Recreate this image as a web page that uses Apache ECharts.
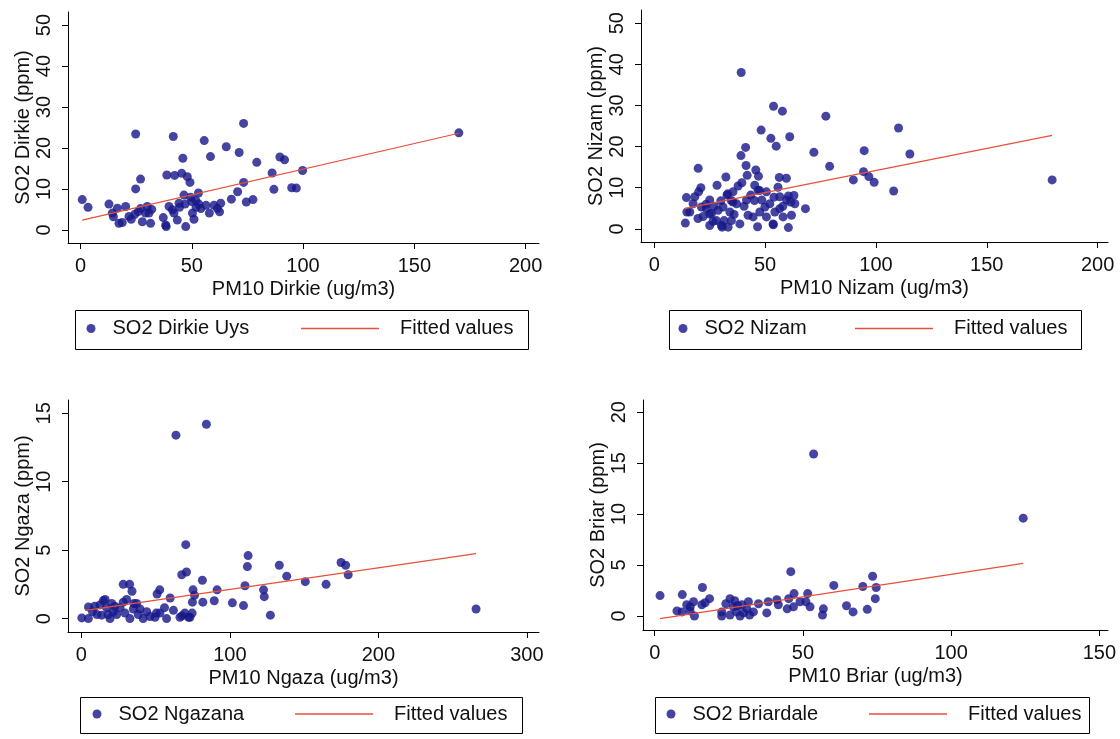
<!DOCTYPE html>
<html>
<head>
<meta charset="utf-8">
<script src="https://cdn.jsdelivr.net/npm/echarts@6/dist/echarts.min.js"></script>
<style>
  html, body { margin: 0; padding: 0; background: #ffffff; }
  #chart { width: 1120px; height: 739px; }
</style>
</head>
<body>
<div id="chart"></div>
<script>
// ---- Dirkie Uys station ----
const dirkiePM10 = [0.8, 3.4, 12.8, 14.3, 16.6, 14.8, 17.3, 18.8, 20.3, 21.8, 22.8, 24.8, 24.8, 27.0, 24.4, 26.0, 27.0, 27.8, 29.2, 30.0,
  30.8, 31.5, 32.0, 37.2, 38.3, 38.5, 38.8, 41.7, 42.3, 39.8, 41.3, 42.0, 43.5, 44.3, 45.5, 46.0, 46.5, 47.3, 48.0, 49.2,
  50.0, 50.3, 51.0, 51.8, 53.0, 53.2, 54.1, 55.6, 56.4, 57.9, 58.4, 60.0, 61.5, 62.5, 63.0, 65.5, 67.8, 70.6, 71.3, 73.3,
  73.3, 74.5, 77.5, 79.2, 86.1, 86.9, 89.6, 91.7, 94.9, 97.0, 99.8, 170.0, 44.5, 47.0, 49.5, 52.0];
const dirkieSO2 = [7.4, 5.5, 6.3, 4.1, 5.3, 3.2, 1.6, 1.8, 5.7, 3.3, 2.6, 23.4, 10.0, 12.4, 3.8, 4.5, 5.2, 2.0, 4.1, 5.7,
  4.1, 1.6, 5.0, 3.0, 1.2, 0.8, 13.4, 22.8, 13.3, 5.7, 4.9, 4.1, 2.4, 6.5, 13.8, 17.5, 8.5, 0.8, 13.0, 11.6,
  6.9, 4.1, 2.6, 7.2, 9.0, 6.3, 5.2, 21.8, 6.0, 4.1, 17.9, 6.0, 5.2, 4.4, 6.5, 20.3, 7.5, 9.3, 18.9, 26.0,
  11.6, 6.8, 7.4, 16.5, 13.9, 9.9, 17.8, 17.1, 10.3, 10.2, 14.5, 23.7, 5.5, 6.3, 8.0, 5.5];
const dirkieFitX = [0.8, 170.0];
const dirkieFitY = [2.4, 23.6];

// ---- Nizam station ----
const nizamPM10 = [39.2, 53.8, 57.8, 77.4, 48.2, 52.6, 55.0, 61.1, 41.2, 39.1, 72.0, 79.1, 94.7, 110.2, 115.3, 94.4, 96.8, 99.2, 89.8, 108.0,
  179.5, 19.8, 32.3, 41.4, 41.9, 45.8, 47.0, 28.3, 21.0, 20.0, 18.3, 14.5, 14.7, 14.0, 19.7, 37.8, 39.5, 56.4, 59.6, 55.8,
  60.5, 63.0, 68.2, 60.5, 46.6, 53.7, 17.5, 21.3, 25.0, 32.8, 35.5, 41.6, 45.3, 46.8, 50.6, 56.6, 59.7, 63.4, 16.0, 23.5,
  25.8, 28.8, 31.0, 34.1, 37.1, 34.8, 30.3, 25.0, 42.3, 44.6, 47.6, 50.6, 53.6, 54.4, 58.1, 61.9, 38.6, 33.3, 28.0, 49.9,
  52.1, 56.6, 33.1, 34.7, 45.2, 47.6, 54.0, 23.4, 31.5, 30.6, 25.0, 40.5, 36.0, 27.0, 22.0, 26.5, 43.5, 48.5, 58.0, 61.5,
  35.5, 30.0];
const nizamSO2 = [38.0, 29.8, 28.6, 27.4, 24.0, 22.0, 20.1, 22.4, 19.8, 17.8, 18.6, 15.2, 19.0, 24.5, 18.2, 13.9, 12.7, 11.3, 11.9, 9.2,
  11.9, 14.7, 12.6, 15.4, 13.0, 14.3, 12.8, 10.6, 10.0, 9.0, 7.8, 7.6, 4.1, 1.4, 2.5, 10.4, 11.2, 12.5, 12.3, 10.1,
  8.0, 8.1, 4.9, 0.3, 0.5, 1.0, 6.1, 5.3, 7.0, 8.2, 6.5, 7.0, 10.6, 9.4, 9.0, 7.8, 7.0, 6.1, 4.1, 4.9,
  3.7, 4.5, 5.3, 4.1, 6.1, 2.0, 0.8, 0.8, 3.3, 2.9, 4.1, 2.9, 1.2, 4.1, 2.9, 3.3, 1.2, 0.4, 2.0, 5.3,
  6.1, 4.9, 8.5, 6.9, 6.9, 9.3, 7.7, 6.0, 2.0, 0.4, 3.6, 5.5, 3.5, 5.5, 3.0, 1.8, 8.2, 7.0, 5.5, 6.5,
  9.0, 6.8];
const nizamFitX = [13.7, 179.5];
const nizamFitY = [4.9, 22.7];

// ---- Ngazana station ----
const ngazaPM10 = [63.7, 84.2, 70.3, 67.6, 70.8, 112.3, 111.8, 110.2, 109.2, 133.3, 138.3, 150.8, 164.8, 174.9, 178.0, 179.7, 265.8, 122.7, 123.2, 127.3,
  101.7, 91.4, 89.5, 81.5, 81.8, 75.2, 76.2, 74.8, 74.6, 67.8, 72.2, 59.8, 52.8, 51.0, 56.0, 50.5, 46.2, 28.2, 32.5, 34.1,
  28.2, 35.4, 14.8, 12.5, 4.8, 0.3, 4.7, 17.0, 13.7, 19.3, 23.8, 26.0, 29.4, 32.7, 35.0, 38.3, 41.6, 37.2, 49.6, 52.9,
  57.4, 66.4, 69.7, 73.1, 39.5, 20.4, 21.5, 9.0, 16.0, 10.5, 22.5, 44.0, 62.0, 30.5, 18.0, 7.5];
const ngazaSO2 = [13.4, 14.2, 5.4, 3.2, 3.4, 4.6, 3.8, 2.4, 0.95, 3.9, 3.1, 2.7, 2.5, 4.1, 3.9, 3.2, 0.7, 2.1, 1.6, 0.25,
  1.15, 2.1, 1.3, 2.8, 1.2, 2.1, 1.7, 1.2, 0.4, 0.2, 0.1, 1.5, 2.1, 1.8, 0.8, 0.4, 0.15, 2.5, 2.5, 2.0,
  1.2, 1.1, 1.3, 1.0, 0.85, 0.05, 0.0, 0.8, 0.25, 0.0, 0.3, 0.8, 0.4, 0.0, 0.7, 0.3, 0.0, 1.1, 0.1, 0.4,
  0.0, 0.1, 0.4, 0.1, 0.7, 1.1, 0.5, 0.9, 1.4, 0.3, 0.9, 0.5, 0.6, 1.4, 0.3, 0.5];
const ngazaFitX = [2.9, 265.8];
const ngazaFitY = [0.6, 4.75];

// ---- Briardale station ----
const briarPM10 = [53.6, 124.3, 45.9, 1.8, 9.3, 16.1, 60.4, 70.2, 73.5, 74.7, 74.4, 71.7, 64.7, 66.9, 56.9, 56.6, 51.6, 52.4, 49.0, 47.0,
  46.8, 44.7, 41.2, 41.7, 38.3, 37.8, 18.5, 15.9, 13.1, 10.8, 7.5, 9.2, 13.4, 11.9, 25.4, 26.5, 22.6, 22.6, 25.4, 27.6,
  28.8, 29.4, 31.1, 31.6, 33.3, 35.0, 51.0, 45.2, 24.0, 30.0, 32.0, 27.0, 17.0, 28.0, 12.0];
const briarSO2 = [15.9, 9.6, 4.35, 2.0, 2.1, 2.8, 3.0, 2.9, 3.9, 2.8, 1.7, 0.65, 1.0, 0.4, 0.7, 0.1, 2.2, 0.9, 1.4, 2.2,
  0.9, 0.7, 1.6, 1.1, 1.4, 0.3, 1.7, 1.1, 1.4, 1.1, 0.5, 0.4, 0.0, 0.5, 1.7, 0.9, 0.4, 0.0, 0.1, 0.4,
  0.0, 1.1, 0.7, 1.4, 0.4, 1.2, 1.4, 1.7, 1.2, 0.3, 0.1, 1.5, 1.3, 1.0, 0.9];
const briarFitX = [1.8, 124.3];
const briarFitY = [-0.25, 5.17];

// ---- axis tick labels ----
const ticksX200 = [0, 50, 100, 150, 200];
const ticksY50 = [0, 10, 20, 30, 40, 50];
const ticksX300 = [0, 100, 200, 300];
const ticksY15 = [0, 5, 10, 15];
const ticksX150 = [0, 50, 100, 150];
const ticksY20 = [0, 5, 10, 15, 20];

const FONT = 'Liberation Sans, Arial, sans-serif';
const DOT = '#17178a';
const FIT = '#e8503a';

const zip = (xs, ys) => xs.map((x, i) => [x, ys[i]]);

const panels = [
  { label: 'SO2 Dirkie Uys', xName: 'PM10 Dirkie (ug/m3)', yName: 'SO2 Dirkie (ppm)',
    pm: dirkiePM10, so2: dirkieSO2, fx: dirkieFitX, fy: dirkieFitY,
    xt: ticksX200, yt: ticksY50, xr: [-5.6, 206], yr: [-3.2, 53.2],
    grid: { left: 68, top: 12, width: 471, height: 231 },
    box: { x: 75, y: 310, w: 453, h: 39 }, dotX: 91, lineX: 301 },
  { label: 'SO2 Nizam', xName: 'PM10 Nizam (ug/m3)', yName: 'SO2 Nizam (ppm)',
    pm: nizamPM10, so2: nizamSO2, fx: nizamFitX, fy: nizamFitY,
    xt: ticksX200, yt: ticksY50, xr: [-6, 204.7], yr: [-3.2, 53.2],
    grid: { left: 641, top: 10, width: 467, height: 232 },
    box: { x: 669, y: 310, w: 412, h: 39 }, dotX: 683, lineX: 855 },
  { label: 'SO2 Ngazana', xName: 'PM10 Ngaza (ug/m3)', yName: 'SO2 Ngaza (ppm)',
    pm: ngazaPM10, so2: ngazaSO2, fx: ngazaFitX, fy: ngazaFitY,
    xt: ticksX300, yt: ticksY15, xr: [-9, 308.2], yr: [-0.98, 15.97],
    grid: { left: 68, top: 400, width: 471, height: 232 },
    box: { x: 80, y: 697, w: 442, h: 36 }, dotX: 97, lineX: 295 },
  { label: 'SO2 Briardale', xName: 'PM10 Briar (ug/m3)', yName: 'SO2 Briar (ppm)',
    pm: briarPM10, so2: briarSO2, fx: briarFitX, fy: briarFitY,
    xt: ticksX150, yt: ticksY20, xr: [-3.95, 152.9], yr: [-1.375, 21.2],
    grid: { left: 643, top: 400, width: 465, height: 230 },
    box: { x: 655, y: 697, w: 434, h: 36 }, dotX: 671, lineX: 869 }
];

const grids = [], xAxes = [], yAxes = [], series = [], legends = [], graphics = [];

panels.forEach((p, i) => {
  grids.push(Object.assign({ outerBoundsMode: 'none', containLabel: false }, p.grid));

  xAxes.push({
    type: 'value', gridIndex: i, min: p.xr[0], max: p.xr[1], position: 'bottom',
    axisLine: { show: true, onZero: false, lineStyle: { color: '#000', width: 1 } },
    axisTick: { show: true, length: 6, customValues: p.xt, lineStyle: { color: '#000' } },
    axisLabel: { customValues: p.xt, margin: 13, fontSize: 20, color: '#111', fontFamily: FONT },
    splitLine: { show: false },
    name: p.xName, nameLocation: 'middle', nameGap: 36,
    nameTextStyle: { fontSize: 20, color: '#111', fontFamily: FONT }
  });

  yAxes.push({
    type: 'value', gridIndex: i, min: p.yr[0], max: p.yr[1], position: 'left',
    axisLine: { show: true, onZero: false, lineStyle: { color: '#000', width: 1 } },
    axisTick: { show: true, length: 6, customValues: p.yt, lineStyle: { color: '#000' } },
    axisLabel: { customValues: p.yt, rotate: 90, margin: 14, fontSize: 20, color: '#111', fontFamily: FONT },
    splitLine: { show: false },
    name: p.yName, nameLocation: 'middle', nameGap: 34,
    nameTextStyle: { fontSize: 20, color: '#111', fontFamily: FONT }
  });

  series.push({
    type: 'scatter', name: p.label, xAxisIndex: i, yAxisIndex: i,
    data: zip(p.pm, p.so2), symbol: 'circle', symbolSize: 9,
    itemStyle: { color: DOT }, z: 2
  });
  series.push({
    type: 'line', name: 'Fitted values', xAxisIndex: i, yAxisIndex: i,
    data: zip(p.fx, p.fy), symbol: 'none', showSymbol: false,
    lineStyle: { color: FIT, width: 1.2 }, itemStyle: { color: FIT }, z: 3
  });

  const cy = p.box.y + p.box.h / 2;
  legends.push({
    data: [{ name: p.label, icon: 'circle' }],
    left: p.dotX - 4.5, top: cy - 11, padding: 0, itemWidth: 9, itemHeight: 9,
    selectedMode: false,
    textStyle: { fontSize: 20, color: '#111', fontFamily: FONT, padding: [0, 0, 0, 12] }
  });
  legends.push({
    data: [{ name: 'Fitted values', icon: 'rect', itemStyle: { color: FIT } }],
    left: p.lineX, top: cy - 11, padding: 0, itemWidth: 78, itemHeight: 1.4,
    selectedMode: false,
    textStyle: { fontSize: 20, color: '#111', fontFamily: FONT, padding: [0, 0, 0, 16] }
  });

  graphics.push({
    type: 'rect', silent: true,
    shape: { x: p.box.x + 0.5, y: p.box.y + 0.5, width: p.box.w, height: p.box.h },
    style: { fill: 'none', stroke: '#000', lineWidth: 1 }
  });
});

const chart = echarts.init(document.getElementById('chart'));
chart.setOption({
  backgroundColor: '#ffffff',
  animation: false,
  grid: grids,
  xAxis: xAxes,
  yAxis: yAxes,
  legend: legends,
  graphic: graphics,
  series: series
});
</script>
</body>
</html>
